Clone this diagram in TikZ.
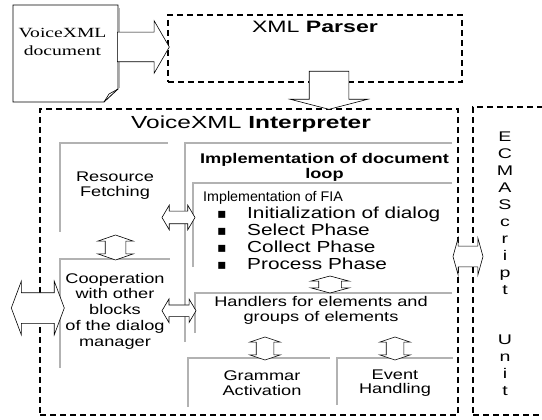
\documentclass[tikz,border=0pt]{standalone}
\usepackage{fontspec}
\setmainfont{Liberation Sans}
\newfontfamily\boxfont[FakeStretch=1.3]{Liberation Sans}
\newfontfamily\fiafont[FakeStretch=1.02]{Liberation Sans}
\newfontfamily\titlefont[FakeStretch=1.4]{Liberation Sans}
\newfontfamily\docfont[FakeStretch=1.4]{Liberation Serif}
\newfontfamily\symfont{DejaVu Sans}
\usetikzlibrary{shapes.arrows,calc}

\tikzset{
  dashbox/.style={draw, dash pattern=on 6pt off 4pt, line width=1.4pt},
  panel/.style={inner sep=0pt, outer sep=0pt},
  inset/.style={draw=gray!60, line width=1.7pt},
  dblarr/.style={double arrow, draw, line width=0.6pt, fill=white, inner xsep=0pt, outer sep=0pt},
  sglarr/.style={single arrow, draw, line width=0.6pt, fill=white, inner xsep=0pt, outer sep=0pt},
  boxtext/.style={font=\boxfont\fontsize{14}{15}\selectfont, align=center, inner sep=0pt},
}
\newcommand{\bul}{\makebox[30pt][l]{\symfont\fontsize{14}{14}\selectfont ▪}}

\begin{document}
\begin{tikzpicture}[x=1pt,y=-1pt]
\useasboundingbox (0,0) rectangle (542,420);

%Shape: Document
\node[panel, minimum width=105, minimum height=97] (doc) at (65.5,53.5) {};
\draw[gray!60, line width=1.6pt] ($(doc.north east)+(1.6,3)$) -- ($(doc.south east)+(1.6,-14)$);
\draw[line width=0.8pt] (doc.north west) -- (doc.north east) -- ($(doc.south east)+(0,-13)$) -- ($(doc.south east)+(-14,0)$) -- (doc.south west) -- cycle;
\draw[line width=0.6pt] ($(doc.south east)+(0,-13)$) -- ($(doc.south east)+(-9,-8)$) -- ($(doc.south east)+(-14,0)$);
% Text Node
\node[font=\docfont\fontsize{14}{18}\selectfont, align=center, inner sep=0pt] (doctext) at ($(doc.north)+(-3,37)$) {VoiceXML\\document};

%Shape: Dashed boxes
\node[dashbox, minimum width=294, minimum height=67] (parser) at (315,48.5) {};
\node[dashbox, minimum width=418, minimum height=306] (interp) at (249,262) {};
\node[dashbox, minimum width=76, minimum height=308] (ecma) at (511,261) {};

% Text Node
\node[font=\titlefont\fontsize{16.5}{18}\selectfont, inner sep=0pt] (ptitle) at ($(parser.north)+(0,13)$) {XML \textbf{Parser}};
% Text Node
\node[font=\titlefont\fontsize{17.5}{20}\selectfont, inner sep=0pt] (ititle) at ($(interp.north)+(2,16)$) {VoiceXML \textbf{Interpreter}};
% Text Node
\node[font=\titlefont\fontsize{14}{17}\selectfont, align=center, inner sep=0pt] (etext) at ($(ecma.center)+(-6,3)$) {E\\C\\M\\A\\S\\c\\r\\i\\p\\t\\[33pt]U\\n\\i\\t};

%Shape: Inner panels
\node[panel, minimum width=108, minimum height=89] (res) at (114,187.5) {};
\node[panel, minimum width=110, minimum height=109] (coop) at (115,313.5) {};
\node[panel, minimum width=267, minimum height=199] (col) at (318.5,242.5) {};
\node[panel, minimum width=259, minimum height=84] (fia) at (322.5,225) {};
\node[panel, minimum width=257, minimum height=40] (hand) at (323.5,313) {};
\node[panel, minimum width=142, minimum height=49] (gram) at (259,382.5) {};
\node[panel, minimum width=116, minimum height=47] (event) at (395,381.5) {};
\foreach \p in {res,coop,col,fia,hand,gram,event}
  \draw[inset] (\p.south west) |- (\p.north east);

% Text Node
\node[boxtext] (restext) at ($(res.center)+(1,-2)$) {Resource\\Fetching};
% Text Node
\node[boxtext, font=\boxfont\fontsize{14}{15.8}\selectfont] (cooptext) at ($(coop.center)+(0,-2.5)$) {Cooperation\\with other\\blocks\\of the dialog\\manager};
% Text Node
\node[boxtext, font=\boxfont\bfseries\fontsize{14}{15}\selectfont] (coltext) at ($(col.north)+(6,24)$) {Implementation of document\\loop};
% Text Node
\node[boxtext, anchor=west, font=\fiafont\fontsize{14pt}{15pt}\selectfont] (fiatext) at ($(fia.north west)+(10,15)$) {Implementation of FIA};
% Text Node
\foreach \t [count=\i] in {Initialization of dialog, Select Phase, Collect Phase, Process Phase}
  \node[inner sep=0pt, anchor=base west, font=\boxfont\fontsize{16}{17}\selectfont] (fiaitem\i) at ($(fia.north west)+(24,{18.5+17*\i})$) {\bul\t};
% Text Node
\node[boxtext] (handtext) at ($(hand.center)+(-2.5,-2.5)$) {Handlers for elements and\\groups of elements};
% Text Node
\node[boxtext, font=\boxfont\fontsize{14}{14.5}\selectfont] (gramtext) at ($(gram.center)+(3,0.5)$) {Grammar\\Activation};
% Text Node
\node[boxtext, font=\boxfont\fontsize{14}{14.5}\selectfont] (eventtext) at ($(event.center)+(0,1.5)$) {Event\\Handling};

%Shape: Block arrows
\node[sglarr, minimum height=52, minimum width=52, inner ysep=14.5, single arrow head extend=11.5, single arrow tip angle=120, anchor=tip] (a1) at ($(parser.west)+(2,-1.5)$) {};
\node[sglarr, rotate=-90, minimum height=38, minimum width=77, inner ysep=19.5, single arrow head extend=19, single arrow tip angle=151, anchor=tip] (a2) at ($(interp.north -| parser.south)+(14,1)$) {};
\node[dblarr, minimum height=33, minimum width=24, inner ysep=6, double arrow head extend=6, double arrow tip angle=119] (d1) at ($(res.east)!.5!(col.west)+(2,2.5)$) {};
\node[dblarr, minimum height=34, minimum width=23, inner ysep=5.5, double arrow head extend=6, double arrow tip angle=119] (d2) at ($(coop.east)!.5!(hand.west)+(-3.5,-2.5)$) {};
\node[dblarr, rotate=90, minimum height=25, minimum width=35, inner ysep=10, double arrow head extend=7.5, double arrow tip angle=142] (d3) at ($(res.south)!.5!(coop.north)+(1,2)$) {};
\node[dblarr, rotate=90, minimum height=17, minimum width=38, inner ysep=11, double arrow head extend=8, double arrow tip angle=150] (d4) at ($(fia.south)!.5!(hand.north)+(7,4.5)$) {};
\node[dblarr, rotate=90, minimum height=23, minimum width=30, inner ysep=8.5, double arrow head extend=6.5, double arrow tip angle=143] (d5) at ($(gram.north)!.5!(gram.north |- hand.south)+(6,3)$) {};
\node[dblarr, rotate=90, minimum height=23, minimum width=30, inner ysep=8.5, double arrow head extend=6.5, double arrow tip angle=143] (d6) at ($(event.north)!.5!(event.north |- hand.south)+(0,3)$) {};
\node[dblarr, minimum height=30, minimum width=36, inner ysep=10, double arrow head extend=8, double arrow tip angle=149] (d7) at ($(interp.east)!.5!(ecma.west)+(2.5,-5)$) {};
\node[dblarr, minimum height=53, minimum width=53, inner ysep=15, double arrow head extend=11.5, double arrow tip angle=139] (d8) at ($(interp.west |- coop.west)+(-1.5,-5.5)$) {};

\end{tikzpicture}
\end{document}
